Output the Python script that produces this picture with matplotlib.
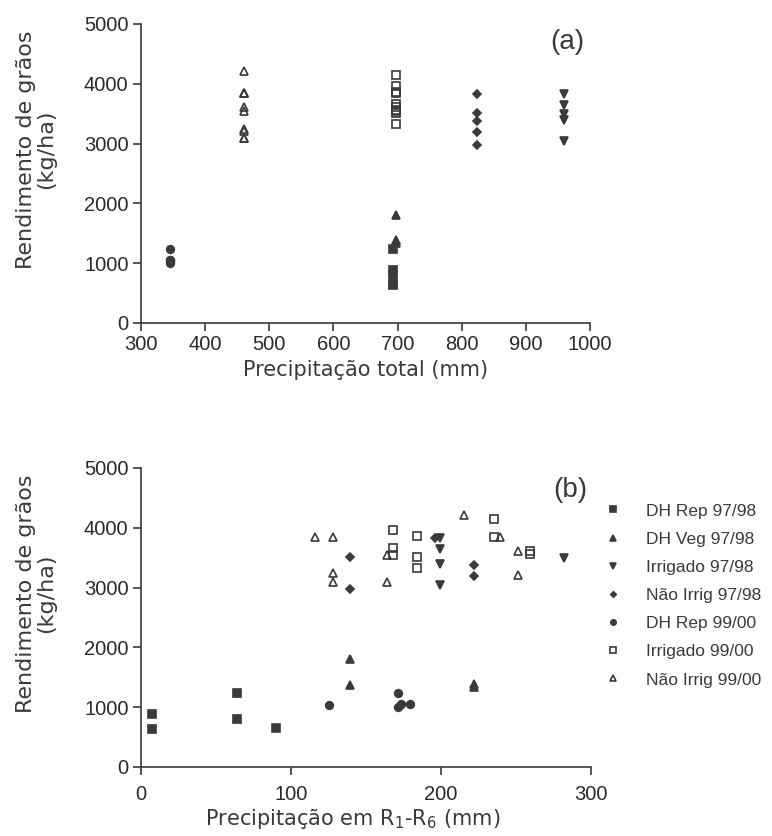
import matplotlib.pyplot as plt

plt.rcParams['font.family'] = ['Liberation Sans', 'DejaVu Sans']

# valores (rendimento em kg/ha)
precip_total = {'dh_rep_9798': 693, 'dh_veg_9798': 697, 'irr_9798': 959,
                'nirr_9798': 824, 'dh_rep_9900': 345, 'irr_9900': 698,
                'nirr_9900': 460}

dh_rep_9798_y = [890, 640, 1230, 800, 650]
dh_rep_9798_x = [7, 7, 64, 64, 90]

dh_veg_9798_y = [1800, 1370, 1390, 1340]
dh_veg_9798_x = [139, 139, 222, 222]

irr_9798_y = [3830, 3640, 3400, 3040, 3500]
irr_9798_x = [199, 199, 199, 199, 282]

nirr_9798_y = [3520, 2980, 3830, 3380, 3190]
nirr_9798_x = [139, 139, 196, 222, 222]

dh_rep_9900_y = [1045, 1230, 1005, 1060, 1055]
dh_rep_9900_x = [125, 171, 171, 173, 179]

irr_9900_y = [3970, 3670, 3540, 3860, 3520, 3320, 4140, 3850, 3620, 3560]
irr_9900_x = [168, 168, 168, 184, 184, 184, 235, 235, 259, 259]

nirr_9900_y = [3840, 3840, 3250, 3100, 3550, 3100, 4220, 3850, 3620, 3210]
nirr_9900_x = [116, 128, 128, 128, 164, 164, 215, 239, 251, 251]

c = '#3a3a3a'
series = [
    ('DH Rep 97/98', 'dh_rep_9798', dh_rep_9798_x, dh_rep_9798_y, 's', True, 5.5),
    ('DH Veg 97/98', 'dh_veg_9798', dh_veg_9798_x, dh_veg_9798_y, '^', True, 5.5),
    ('Irrigado 97/98', 'irr_9798', irr_9798_x, irr_9798_y, 'v', True, 5.5),
    ('Não Irrig 97/98', 'nirr_9798', nirr_9798_x, nirr_9798_y, 'D', True, 4),
    ('DH Rep 99/00', 'dh_rep_9900', dh_rep_9900_x, dh_rep_9900_y, 'o', True, 5.5),
    ('Irrigado 99/00', 'irr_9900', irr_9900_x, irr_9900_y, 's', False, 6),
    ('Não Irrig 99/00', 'nirr_9900', nirr_9900_x, nirr_9900_y, '^', False, 6),
]

fig = plt.figure(figsize=(7.72, 8.36), dpi=100)
ax1 = fig.add_axes([141/772, 1-323/836, 449/772, 299/836])
ax2 = fig.add_axes([141/772, 1-767/836, 450/772, 299/836])

for label, key, xb, y, m, filled, ms in series:
    fc = c if filled else 'none'
    ax1.plot([precip_total[key]]*len(y), y, ls='none', marker=m, ms=ms,
             mfc=fc, mec=c, mew=1.2)
    ax2.plot(xb, y, ls='none', marker=m, ms=ms, mfc=fc, mec=c, mew=1.2,
             label=label)

lab_font = dict(fontsize=15, color='#3a3a3a', family=['DejaVu Sans'])

for ax in (ax1, ax2):
    ax.spines['top'].set_visible(False)
    ax.spines['right'].set_visible(False)
    for s in ('left', 'bottom'):
        ax.spines[s].set_color(c)
        ax.spines[s].set_linewidth(1.2)
    ax.tick_params(direction='out', length=6, width=1.2, colors=c,
                   labelsize=14.5, labelcolor='#2a2a2a', pad=3)
    ax.set_ylim(0, 5000)
    ax.set_yticks([0, 1000, 2000, 3000, 4000, 5000])
    ax.set_ylabel('Rendimento de grãos\n(kg/ha)', linespacing=1.0,
                  labelpad=20, y=0.58, fontsize=16, color='#3a3a3a',
                  family=['DejaVu Sans'])

ax1.set_xlim(300, 1000)
ax1.set_xticks(range(300, 1001, 100))
ax1.set_xlabel('Precipitação total (mm)', labelpad=4, **lab_font)
ax1.text(0.949, 0.94, '(a)', transform=ax1.transAxes, fontsize=20,
         ha='center', va='center', color='#3a3a3a')

ax2.set_xlim(0, 300)
ax2.set_xticks([0, 100, 200, 300])
ax2.tick_params(axis='x', pad=7)
ax2.set_xlabel('Precipitação em R$_\\mathregular{1}$-R$_\\mathregular{6}$ (mm)',
               labelpad=2, x=0.47, **lab_font)
ax2.text(0.954, 0.926, '(b)', transform=ax2.transAxes, fontsize=20,
         ha='center', va='center', color='#3a3a3a')

leg = ax2.legend(loc='upper left', bbox_to_anchor=(1.01, 0.905), frameon=False,
                 fontsize=12.5, markerscale=0.7, handlelength=1.2,
                 handletextpad=1.3, labelspacing=0.75, borderaxespad=0)
for t in leg.get_texts():
    t.set_color('#3a3a3a')

plt.savefig('out.png', dpi=100)
